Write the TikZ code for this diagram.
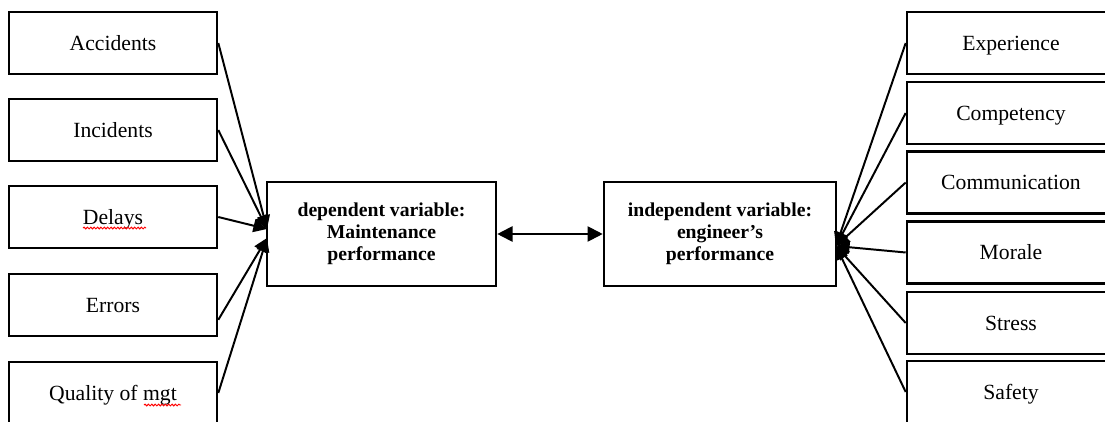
\documentclass[tikz,border=0pt]{standalone}
\usepackage{fontspec}
\setmainfont{Liberation Serif}
\usetikzlibrary{arrows.meta,decorations.pathmorphing}

\begin{document}
\begin{tikzpicture}[x=0.025cm,y=-0.025cm,
    factor/.style={draw,line width=1.8pt,minimum width=5.2cm,minimum height=1.55cm,inner sep=0pt,text height=13pt,text depth=2.8pt,font=\fontsize{15.4}{18}\selectfont},
    mainvar/.style={draw,line width=1.8pt,minimum height=2.6cm,inner sep=0pt,align=center,font=\fontsize{14}{15.8}\selectfont\bfseries},
    link/.style={line width=1.4pt,-{Triangle[length=0.34cm,width=0.32cm]}},
    spell/.style={red,line width=0.7pt,decorate,decoration={snake,amplitude=0.6pt,segment length=2.4pt}}]
        \useasboundingbox (0,0) rectangle (1105,421);
        \clip (0,0) rectangle (1105,421);

        % left side
        \node[factor](acc)at(113,43){Accidents};
        \node[factor](inc)at(113,130){Incidents};
        \node[factor](del)at(113,217){Delays};
        \node[factor](err)at(113,305){Errors};
        \node[factor](qual)at(113,393){Quality of mgt};

        % centre
        \node[mainvar,minimum width=5.725cm](dep)at(381.5,234){dependent variable:\\Maintenance\\performance};
        \node[mainvar,minimum width=5.8cm](ind)at(720,234){independent variable:\\engineer’s\\performance};

        % right side
        \node[factor](exp)at(1011,43){Experience};
        \node[factor](comp)at(1011,113){Competency};
        \node[factor](comm)at(1011,182.5){Communication};
        \node[factor](mor)at(1011,252.5){Morale};
        \node[factor](str)at(1011,323){Stress};
        \node[factor](saf)at(1011,392){Safety};

        \coordinate(depup)at(267,229);
        \coordinate(deplow)at(267,238);
        \coordinate(indin)at(836,246);

        \draw[link](acc.east)--(depup);
        \draw[link](inc.east)--(depup);
        \draw[link](del.east)--(depup);
        \draw[link](err.-8)--(deplow);
        \draw[link](qual.east)--(deplow);

        \draw[link,{Triangle[length=0.38cm,width=0.38cm]}-{Triangle[length=0.38cm,width=0.38cm]}](dep.east)--(ind.west);

        \foreach \f in {exp,comp,comm,mor,str,saf}
            \draw[link](\f.west)--(indin);

        % spell-check marks
        \draw[spell](83,228)--(146,228);
        \draw[spell](144,405)--(181,405);
    \end{tikzpicture}
\end{document}
